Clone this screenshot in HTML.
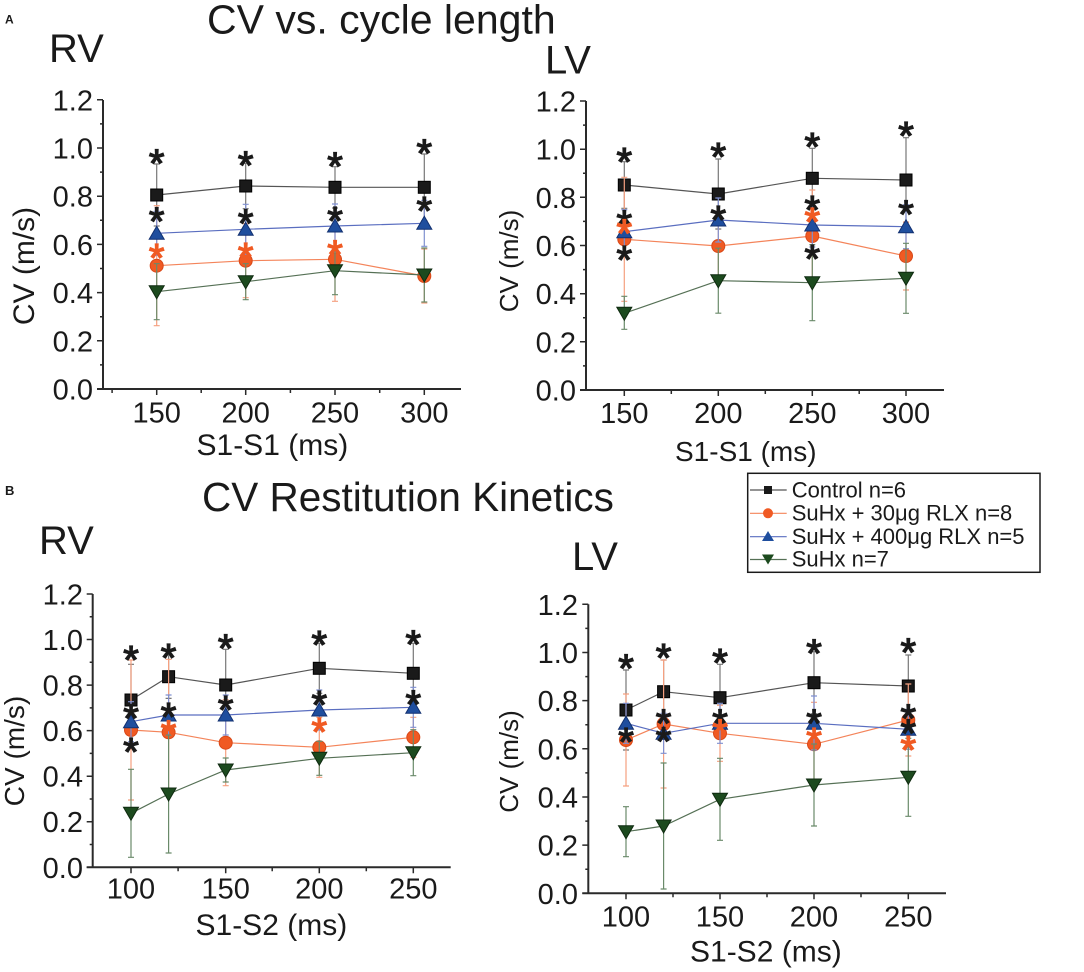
<!DOCTYPE html>
<html><head><meta charset="utf-8"><style>
html,body{margin:0;padding:0;background:#fff;}
svg{display:block;}
text{font-family:"Liberation Sans",Arial,sans-serif;fill:#1a1a1a;}
.tk{font-size:29px;}
.tr{text-anchor:end;}
.tm{text-anchor:middle;}
.s{font-size:40px;text-anchor:middle;stroke:#1a1a1a;stroke-width:1.3;}
.so{font-size:40px;text-anchor:middle;fill:#f05a23;stroke:#f05a23;stroke-width:1.3;}
.ax{stroke:#2a2a2a;stroke-width:2;fill:none;}
.tkl{stroke:#2a2a2a;stroke-width:1.5;}
.lk{stroke:#555;stroke-width:1.2;fill:none;}
.lo{stroke:#f4845a;stroke-width:1.2;fill:none;}
.lb{stroke:#5a6ec0;stroke-width:1.2;fill:none;}
.lg{stroke:#557055;stroke-width:1.2;fill:none;}
.ek{stroke:#777;stroke-width:1.2;}
.eo{stroke:#f5a080;stroke-width:1.2;}
.eb{stroke:#8090d0;stroke-width:1.2;}
.eg{stroke:#6a8a6a;stroke-width:1.2;}
.mk{fill:#1a1a1a;stroke:#000;stroke-width:1;}
.mo{fill:#f05a23;stroke:#d84818;stroke-width:1;}
.mb{fill:#1f4e9e;stroke:#123070;stroke-width:1;}
.mg{fill:#1c4a1e;stroke:#0f2a10;stroke-width:1;}
</style></head><body>
<svg width="1084" height="972" viewBox="0 0 1084 972" xmlns="http://www.w3.org/2000/svg">
<rect width="1084" height="972" fill="#fff"/>

<!-- Titles -->
<text x="5" y="23.3" style="font-size:12px;font-weight:bold">A</text>
<text x="207" y="33.3" style="font-size:41px">CV vs. cycle length</text>
<text x="49" y="62" style="font-size:40px">RV</text>
<text x="545" y="73.3" style="font-size:40px">LV</text>
<text x="5" y="495" style="font-size:13px;font-weight:bold">B</text>
<text x="202" y="511" style="font-size:40.5px">CV Restitution Kinetics</text>
<text x="39" y="554" style="font-size:40px">RV</text>
<text x="572" y="570" style="font-size:40px">LV</text>

<!-- ================= TL panel ================= -->
<g>
<path class="ax" d="M103 100 V389 M97 389 H461"/>
<path class="tkl" d="M97 389H103M97 340.8H103M97 292.6H103M97 244.4H103M97 196.2H103M97 148H103M97 99.8H103
M100 364.9H103M100 316.7H103M100 268.5H103M100 220.3H103M100 172.1H103M100 123.9H103
M156.7 389V395M245.7 389V395M335 389V395M424.3 389V395
M112.1 389V393M201.2 389V393M290.4 389V393M379.7 389V393"/>
<text class="tk tr" x="93" y="399.5">0.0</text>
<text class="tk tr" x="93" y="351.3">0.2</text>
<text class="tk tr" x="93" y="303.1">0.4</text>
<text class="tk tr" x="93" y="254.9">0.6</text>
<text class="tk tr" x="93" y="206.7">0.8</text>
<text class="tk tr" x="93" y="158.5">1.0</text>
<text class="tk tr" x="93" y="110.3">1.2</text>
<text class="tk tm" x="156.7" y="422.7">150</text>
<text class="tk tm" x="245.7" y="422.7">200</text>
<text class="tk tm" x="335" y="422.7">250</text>
<text class="tk tm" x="424.3" y="422.7">300</text>
<text x="196.5" y="455" style="font-size:30px">S1-S1 (ms)</text>
<text class="tm" transform="translate(34,266) rotate(-90)" style="font-size:30px">CV (m/s)</text>

<!-- black -->
<path class="ek" d="M156.7 164V226M153.7 164H159.7M153.7 226H159.7
M245.7 163.3V208.7M242.7 163.3H248.7M242.7 208.7H248.7
M335 166.7V208M332 166.7H338M332 208H338
M424.3 154V220.6M421.3 154H427.3M421.3 220.6H427.3"/>
<polyline class="lk" points="156.7,195 245.7,186 335,187.3 424.3,187.3"/>
<rect class="mk" x="150.7" y="189" width="12" height="12"/>
<rect class="mk" x="239.7" y="180" width="12" height="12"/>
<rect class="mk" x="329" y="181.3" width="12" height="12"/>
<rect class="mk" x="418.3" y="181.3" width="12" height="12"/>
<!-- orange -->
<path class="eo" d="M156.7 205.7V325.7M153.7 205.7H159.7M153.7 325.7H159.7
M245.7 223.7V297.7M242.7 223.7H248.7M242.7 297.7H248.7
M335 217.3V301.3M332 217.3H338M332 301.3H338
M424.3 249V303M421.3 249H427.3M421.3 303H427.3"/>
<polyline class="lo" points="156.7,265.7 245.7,260.7 335,259.3 424.3,276"/>
<circle class="mo" cx="156.7" cy="265.7" r="6.5"/>
<circle class="mo" cx="245.7" cy="260.7" r="6.5"/>
<circle class="mo" cx="335" cy="259.3" r="6.5"/>
<circle class="mo" cx="424.3" cy="276" r="6.5"/>
<!-- blue -->
<path class="eb" d="M156.7 211.3V255.3M153.7 211.3H159.7M153.7 255.3H159.7
M245.7 204.3V254.3M242.7 204.3H248.7M242.7 254.3H248.7
M335 204V248M332 204H338M332 248H338
M424.3 200.3V246.3M421.3 200.3H427.3M421.3 246.3H427.3"/>
<polyline class="lb" points="156.7,233.3 245.7,229.3 335,226 424.3,223.3"/>
<polygon class="mb" points="156.7,226.3 149.2,239.3 164.2,239.3"/>
<polygon class="mb" points="245.7,222.3 238.2,235.3 253.2,235.3"/>
<polygon class="mb" points="335,219 327.5,232 342.5,232"/>
<polygon class="mb" points="424.3,216.3 416.8,229.3 431.8,229.3"/>
<!-- green -->
<path class="eg" d="M156.7 263.7V319.7M153.7 263.7H159.7M153.7 319.7H159.7
M245.7 263.7V299.7M242.7 263.7H248.7M242.7 299.7H248.7
M335 246.7V294.7M332 246.7H338M332 294.7H338
M424.3 248V302M421.3 248H427.3M421.3 302H427.3"/>
<polyline class="lg" points="156.7,291.7 245.7,281.7 335,270.7 424.3,275"/>
<polygon class="mg" points="149.2,285.7 164.2,285.7 156.7,298.7"/>
<polygon class="mg" points="238.2,275.7 253.2,275.7 245.7,288.7"/>
<polygon class="mg" points="327.5,264.7 342.5,264.7 335,277.7"/>
<polygon class="mg" points="416.8,269 431.8,269 424.3,282"/>
<!-- stars -->
<text class="s" x="156.7" y="177">*</text>
<text class="s" x="245.7" y="179">*</text>
<text class="s" x="335" y="180">*</text>
<text class="s" x="424.3" y="167">*</text>
<text class="s" x="156.7" y="235">*</text>
<text class="s" x="245.7" y="237">*</text>
<text class="s" x="335" y="234.7">*</text>
<text class="s" x="424.3" y="224.7">*</text>
<text class="so" x="156.7" y="271.3">*</text>
<text class="so" x="245.7" y="270.3">*</text>
<text class="so" x="335" y="268">*</text>
</g>

<!-- ================= TR panel ================= -->
<g>
<path class="ax" d="M586 101 V390 M580 390 H944"/>
<path class="tkl" d="M580 390H586M580 341.8H586M580 293.7H586M580 245.5H586M580 197.3H586M580 149.2H586M580 101H586
M583 365.9H586M583 317.8H586M583 269.6H586M583 221.4H586M583 173.3H586M583 125.1H586
M624.3 390V396M718.3 390V396M812.3 390V396M906 390V396
M671.3 390V394M765.3 390V394M859.2 390V394"/>
<text class="tk tr" x="576" y="400.5">0.0</text>
<text class="tk tr" x="576" y="352.3">0.2</text>
<text class="tk tr" x="576" y="304.2">0.4</text>
<text class="tk tr" x="576" y="256">0.6</text>
<text class="tk tr" x="576" y="207.8">0.8</text>
<text class="tk tr" x="576" y="159.7">1.0</text>
<text class="tk tr" x="576" y="111.5">1.2</text>
<text class="tk tm" x="624.3" y="423">150</text>
<text class="tk tm" x="718.3" y="423">200</text>
<text class="tk tm" x="812.3" y="423">250</text>
<text class="tk tm" x="906" y="423">300</text>
<text x="675" y="461" style="font-size:28px">S1-S1 (ms)</text>
<text class="tm" transform="translate(518,261) rotate(-90)" style="font-size:26px">CV (m/s)</text>

<path class="ek" d="M624.3 161.7V208.3M621.3 161.7H627.3M621.3 208.3H627.3
M718.3 159V229M715.3 159H721.3M715.3 229H721.3
M812.3 148.3V208.3M809.3 148.3H815.3M809.3 208.3H815.3
M906 137.7V222.3M903 137.7H909M903 222.3H909"/>
<polyline class="lk" points="624.3,185 718.3,194 812.3,178.3 906,180"/>
<rect class="mk" x="618.3" y="179" width="12" height="12"/>
<rect class="mk" x="712.3" y="188" width="12" height="12"/>
<rect class="mk" x="806.3" y="172.3" width="12" height="12"/>
<rect class="mk" x="900" y="174" width="12" height="12"/>

<path class="eo" d="M624.3 177.3V301.3M621.3 177.3H627.3M621.3 301.3H627.3
M718.3 216V276M715.3 216H721.3M715.3 276H721.3
M812.3 190V282M809.3 190H815.3M809.3 282H815.3
M906 222V290M903 222H909M903 290H909"/>
<polyline class="lo" points="624.3,239.3 718.3,246 812.3,236 906,256"/>
<circle class="mo" cx="624.3" cy="239.3" r="6.5"/>
<circle class="mo" cx="718.3" cy="246" r="6.5"/>
<circle class="mo" cx="812.3" cy="236" r="6.5"/>
<circle class="mo" cx="906" cy="256" r="6.5"/>

<path class="eb" d="M624.3 209.7V253.7M621.3 209.7H627.3M621.3 253.7H627.3
M718.3 198V242M715.3 198H721.3M715.3 242H721.3
M812.3 203V247M809.3 203H815.3M809.3 247H815.3
M906 204.7V248.7M903 204.7H909M903 248.7H909"/>
<polyline class="lb" points="624.3,231.7 718.3,220 812.3,225 906,226.7"/>
<polygon class="mb" points="624.3,224.7 616.8,237.7 631.8,237.7"/>
<polygon class="mb" points="718.3,213 710.8,226 725.8,226"/>
<polygon class="mb" points="812.3,218 804.8,231 819.8,231"/>
<polygon class="mb" points="906,219.7 898.5,232.7 913.5,232.7"/>

<path class="eg" d="M624.3 296.3V329.3M621.3 296.3H627.3M621.3 329.3H627.3
M718.3 248.2V313.2M715.3 248.2H721.3M715.3 313.2H721.3
M812.3 244.7V320.7M809.3 244.7H815.3M809.3 320.7H815.3
M906 243.3V313.3M903 243.3H909M903 313.3H909"/>
<polyline class="lg" points="624.3,313.3 718.3,280.7 812.3,282.7 906,278.3"/>
<polygon class="mg" points="616.8,307.3 631.8,307.3 624.3,320.3"/>
<polygon class="mg" points="710.8,274.7 725.8,274.7 718.3,287.7"/>
<polygon class="mg" points="804.8,276.7 819.8,276.7 812.3,289.7"/>
<polygon class="mg" points="898.5,272.3 913.5,272.3 906,285.3"/>

<text class="s" x="624.3" y="175.3">*</text>
<text class="s" x="718.3" y="170.3">*</text>
<text class="s" x="812.3" y="160.3">*</text>
<text class="s" x="906" y="149.3">*</text>
<text class="s" x="624.3" y="238">*</text>
<text class="s" x="718.3" y="233.7">*</text>
<text class="s" x="812.3" y="223.7">*</text>
<text class="s" x="906" y="228">*</text>
<text class="s" x="624.3" y="273.7">*</text>
<text class="s" x="812.3" y="272.7">*</text>
<text class="so" x="624.3" y="247">*</text>
<text class="so" x="812.3" y="235.3">*</text>
</g>

<!-- ================= Legend ================= -->
<g>
<rect x="747.7" y="473.3" width="292.3" height="99" fill="#fff" stroke="#1a1a1a" stroke-width="1.5"/>
<line x1="750" y1="490" x2="786.7" y2="490" stroke="#555" stroke-width="1.2"/>
<rect x="764" y="486" width="8" height="8" fill="#1a1a1a"/>
<line x1="750" y1="513.3" x2="786.7" y2="513.3" stroke="#f4845a" stroke-width="1.2"/>
<circle cx="768" cy="513.3" r="5" fill="#f05a23"/>
<line x1="750" y1="536.7" x2="786.7" y2="536.7" stroke="#5a6ec0" stroke-width="1.2"/>
<polygon points="768,531 762,541 774,541" fill="#1f4e9e"/>
<line x1="750" y1="559.5" x2="786.7" y2="559.5" stroke="#557055" stroke-width="1.2"/>
<polygon points="762,554.5 774,554.5 768,564.5" fill="#1c4a1e"/>
<text x="791.7" y="497.3" style="font-size:22px">Control n=6</text>
<text x="791.7" y="520.7" style="font-size:22px">SuHx + 30μg RLX n=8</text>
<text x="791.7" y="544" style="font-size:22px">SuHx + 400μg RLX n=5</text>
<text x="791.7" y="566.7" style="font-size:22px">SuHx n=7</text>
</g>

<!-- ================= BL panel ================= -->
<g>
<path class="ax" d="M92.7 594 V867.3 M86.7 867.3 H450.7"/>
<path class="tkl" d="M86.7 867.3H92.7M86.7 821.7H92.7M86.7 776.2H92.7M86.7 730.6H92.7M86.7 685.1H92.7M86.7 639.5H92.7M86.7 594H92.7
M89.7 844.5H92.7M89.7 799H92.7M89.7 753.4H92.7M89.7 707.9H92.7M89.7 662.3H92.7M89.7 616.8H92.7
M131 867.3V873.3M225.7 867.3V873.3M319.3 867.3V873.3M413.3 867.3V873.3
M178.1 867.3V871.3M272.2 867.3V871.3M366.3 867.3V871.3"/>
<text class="tk tr" x="83" y="877.8">0.0</text>
<text class="tk tr" x="83" y="832.2">0.2</text>
<text class="tk tr" x="83" y="786.7">0.4</text>
<text class="tk tr" x="83" y="741.1">0.6</text>
<text class="tk tr" x="83" y="695.6">0.8</text>
<text class="tk tr" x="83" y="650">1.0</text>
<text class="tk tr" x="83" y="604.5">1.2</text>
<text class="tk tm" x="131" y="898.3">100</text>
<text class="tk tm" x="225.7" y="898.3">150</text>
<text class="tk tm" x="319.3" y="898.3">200</text>
<text class="tk tm" x="413.3" y="898.3">250</text>
<text x="195.5" y="935" style="font-size:30px">S1-S2 (ms)</text>
<text class="tm" transform="translate(24,751) rotate(-90)" style="font-size:28px">CV (m/s)</text>

<path class="ek" d="M131 664.3V735.7M128 664.3H134M128 735.7H134
M168.6 655V698.4M165.6 655H171.6M165.6 698.4H171.6
M225.7 649.3V720.7M222.7 649.3H228.7M222.7 720.7H228.7
M319.3 643.3V693.3M316.3 643.3H322.3M316.3 693.3H322.3
M413.3 643.3V703.3M410.3 643.3H416.3M410.3 703.3H416.3"/>
<polyline class="lk" points="131,700 168.6,676.7 225.7,685 319.3,668.3 413.3,673.3"/>
<rect class="mk" x="125" y="694" width="12" height="12"/>
<rect class="mk" x="162.6" y="670.7" width="12" height="12"/>
<rect class="mk" x="219.7" y="679" width="12" height="12"/>
<rect class="mk" x="313.3" y="662.3" width="12" height="12"/>
<rect class="mk" x="407.3" y="667.3" width="12" height="12"/>

<path class="eo" d="M131 660V800M128 660H134M128 800H134
M168.6 659.3V795M165.6 659.3H171.6M165.6 795H171.6
M225.7 699.7V785.7M222.7 699.7H228.7M222.7 785.7H228.7
M319.3 717.3V777.3M316.3 717.3H322.3M316.3 777.3H322.3
M413.3 717.3V757.3M410.3 717.3H416.3M410.3 757.3H416.3"/>
<polyline class="lo" points="131,730 168.6,732.3 225.7,742.7 319.3,747.3 413.3,737.3"/>
<circle class="mo" cx="131" cy="730" r="6.5"/>
<circle class="mo" cx="168.6" cy="732.3" r="6.5"/>
<circle class="mo" cx="225.7" cy="742.7" r="6.5"/>
<circle class="mo" cx="319.3" cy="747.3" r="6.5"/>
<circle class="mo" cx="413.3" cy="737.3" r="6.5"/>

<path class="eb" d="M131 701.7V741.7M128 701.7H134M128 741.7H134
M168.6 695V735M165.6 695H171.6M165.6 735H171.6
M225.7 695V735M222.7 695H228.7M222.7 735H228.7
M319.3 690V730M316.3 690H322.3M316.3 730H322.3
M413.3 687.3V727.3M410.3 687.3H416.3M410.3 727.3H416.3"/>
<polyline class="lb" points="131,721.7 168.6,715 225.7,715 319.3,710 413.3,707.3"/>
<polygon class="mb" points="131,714.7 123.5,727.7 138.5,727.7"/>
<polygon class="mb" points="168.6,708 161.1,721 176.1,721"/>
<polygon class="mb" points="225.7,708 218.2,721 233.2,721"/>
<polygon class="mb" points="319.3,703 311.8,716 326.8,716"/>
<polygon class="mb" points="413.3,700.3 405.8,713.3 420.8,713.3"/>

<path class="eg" d="M131 769.3V857.3M128 769.3H134M128 857.3H134
M168.6 735V853M165.6 735H171.6M165.6 853H171.6
M225.7 758V782M222.7 758H228.7M222.7 782H228.7
M319.3 741.3V775.3M316.3 741.3H322.3M316.3 775.3H322.3
M413.3 729.7V775.7M410.3 729.7H416.3M410.3 775.7H416.3"/>
<polyline class="lg" points="131,813.3 168.6,794 225.7,770 319.3,758.3 413.3,752.7"/>
<polygon class="mg" points="123.5,807.3 138.5,807.3 131,820.3"/>
<polygon class="mg" points="161.1,788 176.1,788 168.6,801"/>
<polygon class="mg" points="218.2,764 233.2,764 225.7,777"/>
<polygon class="mg" points="311.8,752.3 326.8,752.3 319.3,765.3"/>
<polygon class="mg" points="405.8,746.7 420.8,746.7 413.3,759.7"/>

<text class="s" x="131" y="673.7">*</text>
<text class="s" x="168.6" y="671.3">*</text>
<text class="s" x="225.7" y="662">*</text>
<text class="s" x="319.3" y="658.7">*</text>
<text class="s" x="413.3" y="658">*</text>
<text class="s" x="131" y="732">*</text>
<text class="s" x="168.6" y="730.3">*</text>
<text class="s" x="225.7" y="723.7">*</text>
<text class="s" x="319.3" y="718.7">*</text>
<text class="s" x="413.3" y="718">*</text>
<text class="s" x="131" y="765.3">*</text>
<text class="so" x="168.6" y="748">*</text>
<text class="so" x="319.3" y="745.3">*</text>
</g>

<!-- ================= BR panel ================= -->
<g>
<path class="ax" d="M588.3 604.3 V893.3 M582.3 893.3 H946"/>
<path class="tkl" d="M582.3 893.3H588.3M582.3 845.1H588.3M582.3 797H588.3M582.3 748.8H588.3M582.3 700.6H588.3M582.3 652.5H588.3M582.3 604.3H588.3
M585.3 869.2H588.3M585.3 821.1H588.3M585.3 772.9H588.3M585.3 724.7H588.3M585.3 676.6H588.3M585.3 628.4H588.3
M626 893.3V899.3M720 893.3V899.3M814 893.3V899.3M908.3 893.3V899.3
M673 893.3V897.3M767 893.3V897.3M861 893.3V897.3"/>
<text class="tk tr" x="578" y="903.8">0.0</text>
<text class="tk tr" x="578" y="855.6">0.2</text>
<text class="tk tr" x="578" y="807.5">0.4</text>
<text class="tk tr" x="578" y="759.3">0.6</text>
<text class="tk tr" x="578" y="711.1">0.8</text>
<text class="tk tr" x="578" y="663">1.0</text>
<text class="tk tr" x="578" y="614.8">1.2</text>
<text class="tk tm" x="626" y="926.7">100</text>
<text class="tk tm" x="720" y="926.7">150</text>
<text class="tk tm" x="814" y="926.7">200</text>
<text class="tk tm" x="908.3" y="926.7">250</text>
<text x="690" y="961.7" style="font-size:30px">S1-S2 (ms)</text>
<text class="tm" transform="translate(518,761.5) rotate(-90)" style="font-size:26px">CV (m/s)</text>

<path class="ek" d="M626 670V750M623 670H629M623 750H629
M663.6 660V723.4M660.6 660H666.6M660.6 723.4H666.6
M720 664.3V731.1M717 664.3H723M717 731.1H723
M814 651.7V713.7M811 651.7H817M811 713.7H817
M908.3 655V717M905.3 655H911.3M905.3 717H911.3"/>
<polyline class="lk" points="626,710 663.6,691.7 720,697.7 814,682.7 908.3,686"/>
<rect class="mk" x="620" y="704" width="12" height="12"/>
<rect class="mk" x="657.6" y="685.7" width="12" height="12"/>
<rect class="mk" x="714" y="691.7" width="12" height="12"/>
<rect class="mk" x="808" y="676.7" width="12" height="12"/>
<rect class="mk" x="902.3" y="680" width="12" height="12"/>

<path class="eo" d="M626 694V786M623 694H629M623 786H629
M663.6 660V788M660.6 660H666.6M660.6 788H666.6
M720 705.3V761.3M717 705.3H723M717 761.3H723
M814 702.3V786.3M811 702.3H817M811 786.3H817
M908.3 684V756M905.3 684H911.3M905.3 756H911.3"/>
<polyline class="lo" points="626,740 663.6,724 720,733.3 814,744.3 908.3,720"/>
<circle class="mo" cx="626" cy="740" r="6.5"/>
<circle class="mo" cx="663.6" cy="724" r="6.5"/>
<circle class="mo" cx="720" cy="733.3" r="6.5"/>
<circle class="mo" cx="814" cy="744.3" r="6.5"/>
<circle class="mo" cx="908.3" cy="720" r="6.5"/>

<path class="eb" d="M626 703.3V743.3M623 703.3H629M623 743.3H629
M663.6 713.3V753.3M660.6 713.3H666.6M660.6 753.3H666.6
M720 703.3V743.3M717 703.3H723M717 743.3H723
M814 696V750M811 696H817M811 750H817
M908.3 709.3V749.3M905.3 709.3H911.3M905.3 749.3H911.3"/>
<polyline class="lb" points="626,723.3 663.6,733.3 720,723.3 814,723.3 908.3,729.3"/>
<polygon class="mb" points="626,716.3 618.5,729.3 633.5,729.3"/>
<polygon class="mb" points="663.6,726.3 656.1,739.3 671.1,739.3"/>
<polygon class="mb" points="720,716.3 712.5,729.3 727.5,729.3"/>
<polygon class="mb" points="814,716.3 806.5,729.3 821.5,729.3"/>
<polygon class="mb" points="908.3,722.3 900.8,735.3 915.8,735.3"/>

<path class="eg" d="M626 806.7V856.7M623 806.7H629M623 856.7H629
M663.6 763V889M660.6 763H666.6M660.6 889H666.6
M720 758.3V840.3M717 758.3H723M717 840.3H723
M814 744V826M811 744H817M811 826H817
M908.3 738.3V816.3M905.3 738.3H911.3M905.3 816.3H911.3"/>
<polyline class="lg" points="626,831.7 663.6,826 720,799.3 814,785 908.3,777.3"/>
<polygon class="mg" points="618.5,825.7 633.5,825.7 626,838.7"/>
<polygon class="mg" points="656.1,820 671.1,820 663.6,833"/>
<polygon class="mg" points="712.5,793.3 727.5,793.3 720,806.3"/>
<polygon class="mg" points="806.5,779 821.5,779 814,792"/>
<polygon class="mg" points="900.8,771.3 915.8,771.3 908.3,784.3"/>

<text class="s" x="626" y="682">*</text>
<text class="s" x="663.6" y="671.3">*</text>
<text class="s" x="720" y="676.3">*</text>
<text class="s" x="814" y="667">*</text>
<text class="s" x="908.3" y="666">*</text>
<text class="s" x="626" y="755.3">*</text>
<text class="s" x="663.6" y="737">*</text>
<text class="s" x="663.6" y="755">*</text>
<text class="s" x="720" y="737">*</text>
<text class="s" x="814" y="737">*</text>
<text class="s" x="908.3" y="732">*</text>
<text class="s" x="908.3" y="747">*</text>
<text class="so" x="720" y="747">*</text>
<text class="so" x="814" y="755.3">*</text>
<text class="so" x="908.3" y="763.7">*</text>
</g>
</svg>
</body></html>
